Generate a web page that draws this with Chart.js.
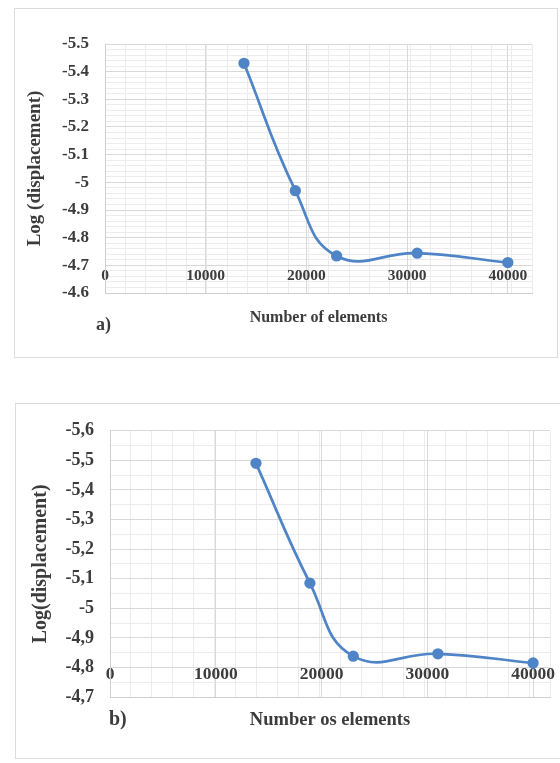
<!DOCTYPE html>
<html>
<head>
<meta charset="utf-8">
<script src="https://cdn.jsdelivr.net/npm/chart.js@4"></script>
<style>
  html, body { margin: 0; padding: 0; background: #fff; }
  body { width: 560px; height: 763px; overflow: hidden; position: relative; }
  .box { position: absolute; border: 1px solid #dcdcdc; box-sizing: border-box; background: #fff; }
  .box canvas { display: block; }
  .tag { position: absolute; font-family: "Liberation Serif", "Times New Roman", serif; font-weight: bold; color: #3c3c3c; }
</style>
</head>
<body>
<div class="box" id="boxA" style="left:14px;top:8px;width:544px;height:350px;"><canvas id="chartA"></canvas></div>
<div class="tag" style="left:96px;top:313px;font-size:18px;line-height:22px;">a)</div>

<div class="box" id="boxB" style="left:15px;top:403px;width:565px;height:356px;"><canvas id="chartB"></canvas></div>
<div class="tag" style="left:109px;top:706px;font-size:20px;line-height:24px;">b)</div>

<script>
// mesh sizes (number of elements) — same meshes for both studies
const elementCounts = [13800, 18900, 23000, 31000, 40000];
// log of displacement, panel a) and b)
const logDispA = [-5.43, -4.97, -4.734, -4.744, -4.71];
const logDispB = [-5.49, -5.085, -4.838, -4.846, -4.815];
// x-axis tick labels
const xTickValues = [0, 10000, 20000, 30000, 40000];

const SERIF = '"Liberation Serif", "Times New Roman", serif';
const TEXT = '#3c3c3c';
const LINE = '#4f84c6';
const GRID_MAJOR = '#d9d9d9';
const GRID_MINOR = '#ececec';

function buildChart(canvasId, p) {
  const ctx = document.getElementById(canvasId);
  return new Chart(ctx, {
    type: 'line',
    data: {
      datasets: [{
        data: elementCounts.map((x, i) => ({ x, y: p.values[i] })),
        borderColor: LINE,
        backgroundColor: LINE,
        borderWidth: 2.7,
        pointRadius: 4.3,
        pointBackgroundColor: LINE,
        pointBorderColor: LINE,
        tension: 0.45,
        fill: false,
      }],
    },
    options: {
      responsive: true,
      maintainAspectRatio: false,
      animation: false,
      layout: { padding: p.padding },
      plugins: { legend: { display: false }, tooltip: { enabled: false } },
      scales: {
        // minor gridlines first, drawn under the major ones
        xMinor: {
          type: 'linear', position: 'bottom', min: 0, max: p.xMax,
          ticks: { display: false, stepSize: 2000 },
          grid: { color: GRID_MINOR, drawTicks: false, z: -2 },
          border: { display: false },
          afterFit: (s) => { s.height = 0; },
        },
        yMinor: {
          type: 'linear', position: 'left', min: p.yMin, max: p.yMax, reverse: true,
          ticks: { display: false, stepSize: p.yMinorStep },
          grid: { color: GRID_MINOR, drawTicks: false, z: -2 },
          border: { display: false },
          afterFit: (s) => { s.width = 0; },
        },
        x: {
          type: 'linear', position: 'bottom', min: 0, max: p.xMax,
          afterBuildTicks: (s) => { s.ticks = xTickValues.map((v) => ({ value: v })); },
          ticks: {
            // Excel put the labels inside the plot, just above the bottom edge;
            // mirror draws them inside (padding pushes them up)
            mirror: true,
            padding: p.xTickPad,
            color: TEXT,
            maxRotation: 0,
            autoSkip: false,
            font: { family: SERIF, size: p.xTickSize, weight: 'bold' },
            callback: (v) => String(v),
          },
          grid: { color: GRID_MAJOR, drawTicks: false, z: -1 },
          border: { display: true, color: '#cfcfcf', width: 1 },
          title: {
            display: true, text: p.xTitle, color: TEXT,
            font: { family: SERIF, size: p.xTitleSize, weight: 'bold' },
            padding: { top: 0, bottom: p.xTitlePad },
          },
          afterFit: (s) => { s.height = p.xAxisH; },
        },
        y: {
          type: 'linear', position: 'left', min: p.yMin, max: p.yMax, reverse: true,
          ticks: {
            stepSize: 0.1,
            padding: 16,
            color: TEXT,
            font: { family: SERIF, size: p.yTickSize, weight: 'bold' },
            callback: (v) => {
              const s = String(Number(v.toFixed(2)));
              return p.comma ? s.replace('.', ',') : s;
            },
          },
          grid: { color: GRID_MAJOR, drawTicks: false, z: -1 },
          border: { display: true, color: '#cfcfcf', width: 1 },
          title: {
            display: true, text: p.yTitle, color: TEXT,
            font: { family: SERIF, size: p.yTitleSize, weight: 'bold' },
            padding: { top: p.yTitlePad, bottom: 0 },
          },
          afterFit: (s) => { s.width = p.yAxisW; },
        },
      },
    },
  });
}

buildChart('chartA', {
  values: logDispA,
  xMax: 42400, yMin: -5.5, yMax: -4.6, yMinorStep: 0.02,
  padding: { top: 35, right: 25, bottom: 0, left: 0 },
  yAxisW: 90, xAxisH: 64,
  xTickPad: 8, xTickSize: 15.5, yTickSize: 17,
  xTitle: 'Number of elements', xTitleSize: 16, xTitlePad: 30,
  yTitle: 'Log (displacement)', yTitleSize: 19, yTitlePad: 9,
  comma: false,
});

buildChart('chartB', {
  values: logDispB,
  xMax: 41600, yMin: -5.6, yMax: -4.7, yMinorStep: 0.05,
  padding: { top: 19, right: 29, bottom: 0, left: 0 },
  yAxisW: 94, xAxisH: 61,
  xTickPad: 12, xTickSize: 17.5, yTickSize: 18,
  xTitle: 'Number os elements', xTitleSize: 18.5, xTitlePad: 27,
  yTitle: 'Log(displacement)', yTitleSize: 20, yTitlePad: 13,
  comma: true,
});
</script>
</body>
</html>
